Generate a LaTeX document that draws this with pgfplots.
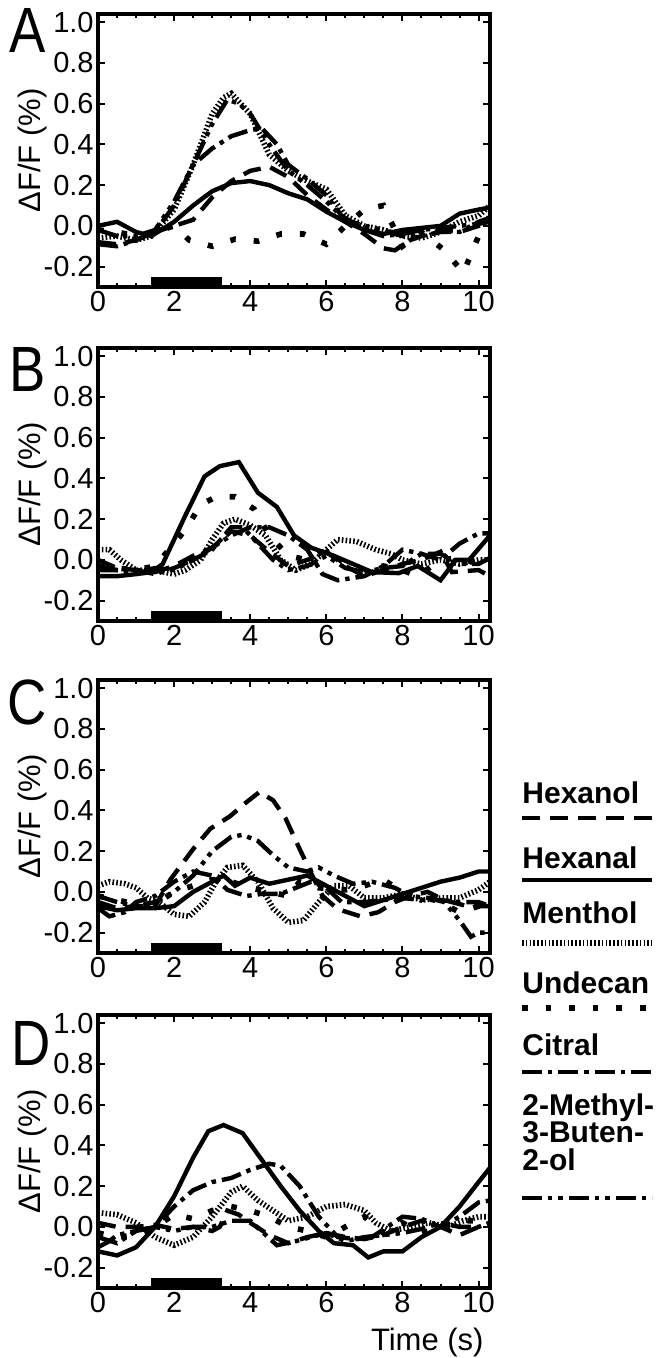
\documentclass[border=0pt]{standalone}
\usepackage{fontspec}
\setmainfont{Liberation Sans}
\usepackage{pgfplots}
\pgfplotsset{compat=1.18}

\tikzset{
  hexanol/.style={black, line width=2.2pt, dash pattern=on 9pt off 5pt},
  hexanal/.style={black, line width=2.2pt},
  menthol/.style={black, line width=2.8pt, dash pattern=on 0.8pt off 1.1pt},
  undecan/.style={black, line width=2.8pt, dash pattern=on 2.8pt off 9pt},
  citral/.style={black, line width=2.2pt, dash pattern=on 10pt off 3pt on 2.2pt off 3pt},
  methyl/.style={black, line width=2.2pt, dash pattern=on 10pt off 3pt on 2.2pt off 3pt on 2.2pt off 3pt},
}
\pgfplotsset{
  panel/.style={
    anchor=south west, width=196pt, height=136.5pt, scale only axis,
    xmin=0, xmax=10.3, ymin=-0.3, ymax=1.04,
    xtick={0,2,4,6,8,10}, xticklabels={0,2,4,6,8,10}, minor x tick num=3,
    ytick={-0.2,0,0.2,0.4,0.6,0.8,1.0},
    yticklabels={-0.2,0.0,0.2,0.4,0.6,0.8,1.0},
    tick align=inside, major tick length=3.5pt, minor tick length=2pt,
    axis line style={line width=2.2pt},
    every tick/.style={black, line width=1pt},
    ticklabel style={font=\fontsize{14.5}{15}\selectfont, inner sep=2pt},
    ylabel={ΔF/F (\%)},
    ylabel style={at={(axis description cs:-0.168,0.5)}, anchor=center, font=\fontsize{15.5}{16}\selectfont},
    clip=true,
  },
}

\begin{document}
\begin{tikzpicture}
\useasboundingbox (0,0) rectangle (328.5pt,-679pt);

% ---------------- A
\begin{axis}[panel, at={(49pt,-143.5pt)}]
\addplot[fill=black, draw=none] coordinates {(1.4,-0.31) (3.25,-0.31) (3.25,-0.25) (1.4,-0.25)} -- cycle;
\addplot[hexanol] coordinates {(0,-0.08) (0.5,-0.09) (1,-0.07) (1.5,-0.03) (2,0.0) (2.5,0.03) (3,0.14) (3.5,0.22) (4,0.27) (4.5,0.29) (5,0.24) (5.5,0.15) (6,0.08) (6.5,0.02) (7,-0.04) (7.5,-0.11) (7.8,-0.12) (8.2,-0.07) (8.5,-0.05) (9,-0.02) (9.5,-0.03) (10,0.0) (10.3,0.02)};
\addplot[hexanal] coordinates {(0,0.0) (0.5,0.02) (1,-0.03) (1.4,-0.05) (2,0.02) (2.5,0.1) (3,0.17) (3.5,0.21) (4,0.22) (4.5,0.2) (5,0.16) (5.5,0.13) (6,0.07) (6.5,0.02) (7,-0.02) (7.5,-0.04) (8,-0.02) (8.5,-0.01) (9,0.0) (9.5,0.06) (10,0.08) (10.3,0.09)};
\addplot[menthol] coordinates {(0,-0.06) (0.5,-0.05) (1,-0.07) (1.4,-0.05) (2,0.08) (2.5,0.3) (3,0.55) (3.3,0.63) (3.5,0.65) (4,0.55) (4.5,0.35) (5,0.27) (5.5,0.22) (6,0.18) (6.5,0.05) (7,0.0) (7.5,-0.02) (8,-0.05) (8.5,-0.06) (9,-0.03) (9.5,0.02) (10,0.05) (10.3,0.1)};
\addplot[undecan] coordinates {(0,-0.02) (0.5,-0.03) (1,-0.05) (1.5,-0.03) (2,0.0) (2.4,-0.07) (3,-0.1) (3.6,-0.065) (4.2,-0.075) (4.8,-0.04) (5.4,-0.04) (6.0,-0.09) (6.5,0.0) (7.0,0.08) (7.5,0.1) (8.0,-0.1) (8.5,-0.03) (9.1,-0.12) (9.6,-0.23) (10.0,-0.05) (10.3,0.05)};
\addplot[citral] coordinates {(0,-0.09) (0.5,-0.1) (1,-0.07) (1.5,-0.03) (2,0.1) (2.5,0.3) (3,0.38) (3.5,0.44) (4,0.47) (4.3,0.48) (4.7,0.4) (5,0.3) (5.5,0.23) (6,0.15) (6.4,0.05) (7,-0.02) (7.5,-0.05) (8,-0.04) (8.5,-0.02) (9,-0.01) (9.5,0.0) (10,0.01) (10.3,0.02)};
\addplot[methyl] coordinates {(0,-0.02) (0.5,-0.05) (1,-0.05) (1.5,-0.02) (2,0.12) (2.5,0.3) (3,0.5) (3.4,0.62) (3.7,0.6) (4,0.55) (4.5,0.4) (5,0.27) (5.5,0.2) (6,0.12) (6.5,0.03) (7,0.0) (7.5,-0.02) (8,-0.05) (8.5,-0.05) (9,-0.03) (9.5,-0.03) (10,0.02) (10.3,0.04)};
\end{axis}

% ---------------- B
\begin{axis}[panel, at={(49pt,-310.5pt)}]
\addplot[fill=black, draw=none] coordinates {(1.4,-0.31) (3.25,-0.31) (3.25,-0.25) (1.4,-0.25)} -- cycle;
\addplot[hexanol] coordinates {(0,0.0) (0.5,-0.04) (1,-0.05) (1.5,-0.06) (2,-0.03) (2.5,0.02) (3,0.06) (3.5,0.14) (4,0.12) (4.5,0.04) (5,-0.03) (5.5,0.0) (6,0.04) (6.5,-0.03) (7,-0.08) (7.5,-0.05) (8,-0.02) (8.5,0.0) (9,0.04) (9.3,-0.06) (10,-0.05) (10.3,-0.08)};
\addplot[hexanal] coordinates {(0,-0.08) (0.5,-0.08) (1,-0.07) (1.4,-0.06) (1.7,-0.02) (2.3,0.22) (2.8,0.41) (3.2,0.46) (3.7,0.48) (4.2,0.33) (4.7,0.26) (5.15,0.12) (5.6,0.06) (6.2,0.02) (6.7,-0.02) (7.2,-0.06) (7.9,-0.065) (8.4,-0.03) (9.0,-0.1) (9.4,0.0) (9.75,0.0) (10.3,0.12)};
\addplot[menthol] coordinates {(0,0.05) (0.3,0.05) (0.6,0.0) (1,-0.05) (1.5,-0.05) (2,-0.07) (2.3,-0.05) (2.7,0.0) (3.0,0.1) (3.3,0.18) (3.6,0.2) (4,0.17) (4.4,0.12) (4.8,0.0) (5.2,-0.05) (5.6,-0.02) (6,0.05) (6.3,0.1) (6.8,0.09) (7.3,0.05) (7.7,0.03) (8.0,0.0) (8.5,-0.02) (9,0.0) (9.5,-0.02) (10,0.0) (10.3,0.0)};
\addplot[undecan] coordinates {(0,-0.03) (0.5,-0.04) (1,-0.05) (1.5,-0.03) (2,0.08) (2.3,0.15) (2.7,0.27) (3.1,0.31) (3.6,0.31) (4.1,0.25) (4.5,0.12) (5,0.02) (5.5,0.0) (6,0.05) (6.5,-0.02) (7,-0.05) (7.5,-0.03) (8,-0.05) (8.4,-0.08) (9,0.0) (9.5,0.01) (10,-0.02) (10.3,-0.02)};
\addplot[citral] coordinates {(0,-0.03) (0.5,-0.05) (1,-0.05) (1.5,-0.07) (2,-0.04) (2.5,0.0) (3,0.06) (3.5,0.12) (4,0.16) (4.5,0.16) (5,0.12) (5.5,0.05) (5.9,-0.07) (6.3,-0.1) (7,-0.08) (7.5,-0.03) (8,0.05) (8.5,0.03) (9,0.0) (9.5,0.08) (10,0.13) (10.3,0.13)};
\addplot[methyl] coordinates {(0,-0.05) (0.5,-0.05) (1,-0.06) (1.5,-0.04) (2,-0.05) (2.5,0.0) (3,0.05) (3.5,0.16) (3.8,0.16) (4.2,0.08) (4.6,0.0) (5,-0.05) (5.5,-0.03) (6,0.02) (6.5,-0.04) (7,-0.06) (7.5,-0.04) (8,-0.03) (8.5,0.03) (9,0.03) (9.5,-0.02) (10,-0.02) (10.3,0.01)};
\end{axis}

% ---------------- C
\begin{axis}[panel, at={(49pt,-476.5pt)}]
\addplot[fill=black, draw=none] coordinates {(1.4,-0.31) (3.25,-0.31) (3.25,-0.25) (1.4,-0.25)} -- cycle;
\addplot[hexanol] coordinates {(0,-0.05) (0.5,-0.08) (1,-0.07) (1.5,-0.07) (1.9,0.06) (2.5,0.21) (2.95,0.31) (3.46,0.37) (3.9,0.44) (4.24,0.49) (4.6,0.45) (4.93,0.36) (5.3,0.21) (5.63,0.08) (5.9,-0.02) (6.3,-0.085) (6.9,-0.12) (7.36,-0.1) (7.8,-0.05) (8.2,-0.02) (8.66,0.0) (9.1,-0.04) (9.7,-0.07) (10.3,-0.07)};
\addplot[hexanal] coordinates {(0,-0.07) (0.5,-0.09) (1,-0.08) (1.5,-0.08) (2,-0.07) (2.5,0.0) (3,0.05) (3.3,0.08) (3.6,0.03) (4.0,0.07) (4.5,0.04) (5,0.06) (5.5,0.08) (6,0.03) (6.5,-0.02) (7,-0.07) (7.5,-0.04) (8,-0.01) (8.5,0.02) (9,0.05) (9.5,0.07) (10,0.1) (10.3,0.1)};
\addplot[menthol] coordinates {(0,0.03) (0.3,0.05) (0.7,0.04) (1,0.02) (1.3,-0.03) (1.6,-0.05) (2,-0.11) (2.4,-0.12) (2.8,-0.05) (3.1,0.05) (3.4,0.12) (3.8,0.13) (4.2,0.05) (4.6,-0.08) (5,-0.15) (5.4,-0.14) (5.8,-0.05) (6.2,0.03) (6.6,0.03) (7,-0.03) (7.5,-0.03) (8,-0.01) (8.5,-0.04) (9,-0.03) (9.5,-0.03) (10,0.01) (10.3,0.05)};
\addplot[undecan] coordinates {(0,-0.02) (0.5,-0.04) (1,-0.06) (1.5,-0.06) (2,0.0) (2.5,0.03) (3,0.06) (3.5,0.05) (4,0.02) (4.5,0.0) (5,-0.02) (5.3,0.05) (5.8,0.02) (6.5,0.01) (7,0.03) (7.5,0.06) (8,0.0) (8.5,-0.02) (9,-0.05) (9.5,-0.1) (10,-0.07) (10.3,0.0)};
\addplot[citral] coordinates {(0,-0.08) (0.3,-0.12) (0.7,-0.1) (1,-0.05) (1.5,-0.02) (2,0.05) (2.5,0.1) (3,0.08) (3.4,0.01) (3.9,-0.02) (4.3,-0.01) (4.8,-0.01) (5.2,0.02) (5.6,0.05) (6,0.02) (6.4,-0.05) (7,-0.05) (7.5,-0.04) (8,-0.03) (8.5,-0.04) (9,-0.04) (9.5,-0.05) (10,-0.05) (10.3,-0.07)};
\addplot[methyl] coordinates {(0,-0.02) (0.5,-0.05) (1,-0.07) (1.5,-0.05) (2,0.0) (2.5,0.08) (3,0.2) (3.5,0.27) (3.8,0.28) (4.2,0.25) (4.6,0.18) (5,0.12) (5.5,0.1) (5.8,0.12) (6.2,0.08) (6.7,0.04) (7.2,0.05) (7.8,0.02) (8.2,-0.02) (8.7,-0.03) (9.1,-0.05) (9.5,-0.14) (9.8,-0.22) (10,-0.2) (10.3,-0.2)};
\end{axis}

% ---------------- D
\begin{axis}[panel, at={(49pt,-644pt)}, xlabel={Time (s)},
  xlabel style={at={(axis description cs:0.84,0)}, anchor=center, yshift=-27pt, font=\fontsize{15.5}{16}\selectfont}]
\addplot[fill=black, draw=none] coordinates {(1.4,-0.31) (3.25,-0.31) (3.25,-0.25) (1.4,-0.25)} -- cycle;
\addplot[hexanol] coordinates {(0,0.02) (0.5,0.0) (1,0.0) (1.5,0.01) (2,-0.01) (2.5,0.0) (3,-0.02) (3.2,0.0) (3.4,0.08) (3.7,0.06) (4,0.02) (4.5,-0.04) (5,-0.08) (5.5,-0.05) (6,-0.03) (6.5,-0.05) (7,-0.06) (7.5,-0.04) (8,0.0) (8.5,0.03) (9,0.0) (9.5,-0.04) (10,0.0) (10.3,0.02)};
\addplot[hexanal] coordinates {(0,-0.12) (0.5,-0.14) (1,-0.1) (1.5,0.0) (2,0.15) (2.5,0.34) (2.9,0.47) (3.3,0.5) (3.8,0.46) (4.3,0.33) (4.8,0.2) (5.3,0.08) (5.8,-0.02) (6.2,-0.08) (6.7,-0.09) (7.1,-0.15) (7.5,-0.12) (8,-0.12) (8.5,-0.05) (9,0.0) (9.5,0.1) (10,0.22) (10.3,0.29)};
\addplot[menthol] coordinates {(0,0.07) (0.5,0.06) (1,0.02) (1.5,-0.05) (2,-0.09) (2.5,-0.05) (3,0.05) (3.5,0.17) (3.8,0.2) (4.2,0.13) (4.6,0.08) (5,0.03) (5.5,0.05) (6,0.1) (6.5,0.11) (7,0.08) (7.3,0.02) (7.7,-0.02) (8.2,0.0) (8.7,0.02) (9.2,0.0) (9.6,0.03) (10,0.05) (10.3,0.05)};
\addplot[undecan] coordinates {(0,-0.03) (0.5,-0.05) (1,-0.04) (1.5,0.0) (2,0.06) (2.5,0.04) (3,0.08) (3.5,0.1) (4,0.08) (4.5,0.05) (5,0.0) (5.5,-0.02) (6,-0.05) (6.5,0.0) (7,0.05) (7.5,-0.03) (8,0.02) (8.5,-0.03) (9,0.0) (9.5,0.03) (10,0.03) (10.3,0.02)};
\addplot[citral] coordinates {(0,-0.05) (0.5,-0.08) (1,-0.02) (1.5,0.0) (2,0.1) (2.5,0.18) (3,0.22) (3.5,0.24) (4,0.28) (4.5,0.31) (4.8,0.3) (5.3,0.2) (5.8,0.05) (6.3,-0.05) (6.8,-0.06) (7.2,-0.05) (7.6,0.0) (8.0,0.05) (8.5,0.04) (9.0,0.0) (9.5,0.05) (10,0.12) (10.3,0.13)};
\addplot[methyl] coordinates {(0,-0.1) (0.3,-0.07) (0.5,-0.04) (1,-0.02) (1.5,0.0) (2,-0.02) (2.5,0.0) (3,0.0) (3.5,0.03) (4,0.03) (4.7,-0.09) (5.2,-0.07) (6,-0.03) (6.5,-0.07) (7,-0.05) (7.5,-0.04) (8,-0.03) (8.5,-0.01) (9,0.02) (9.5,0.0) (10,0.0) (10.3,0.02)};
\end{axis}

% panel letters
\foreach \l/\px/\py in {A/14/-15, B/14/-184.5, C/13.5/-351, D/15.5/-521.5}
  \node[font=\fontsize{32}{32}\selectfont, inner sep=0pt, xscale=0.85] at (\px pt,\py pt) {\l};

% legend
\begin{scope}[font=\fontsize{15}{15}\selectfont\bfseries]
\node[anchor=base west, inner sep=0pt] at (261pt,-401.5pt) {Hexanol};
\draw[hexanol] (261pt,-409pt) -- (326pt,-409pt);
\node[anchor=base west, inner sep=0pt] at (261pt,-434pt) {Hexanal};
\draw[hexanal] (261pt,-440pt) -- (326pt,-440pt);
\node[anchor=base west, inner sep=0pt] at (261pt,-461.5pt) {Menthol};
\draw[menthol] (261pt,-471.5pt) -- (326pt,-471.5pt);
\node[anchor=base west, inner sep=0pt] at (261pt,-496.5pt) {Undecan};
\draw[undecan] (261pt,-504pt) -- (326pt,-504pt);
\node[anchor=base west, inner sep=0pt] at (261pt,-527.5pt) {Citral};
\draw[citral] (261pt,-536pt) -- (326pt,-536pt);
\node[anchor=base west, inner sep=0pt] at (261pt,-557.5pt) {2-Methyl-};
\node[anchor=base west, inner sep=0pt] at (261pt,-571pt) {3-Buten-};
\node[anchor=base west, inner sep=0pt] at (261pt,-585pt) {2-ol};
\draw[methyl] (261pt,-599pt) -- (326pt,-599pt);
\end{scope}
\end{tikzpicture}
\end{document}
